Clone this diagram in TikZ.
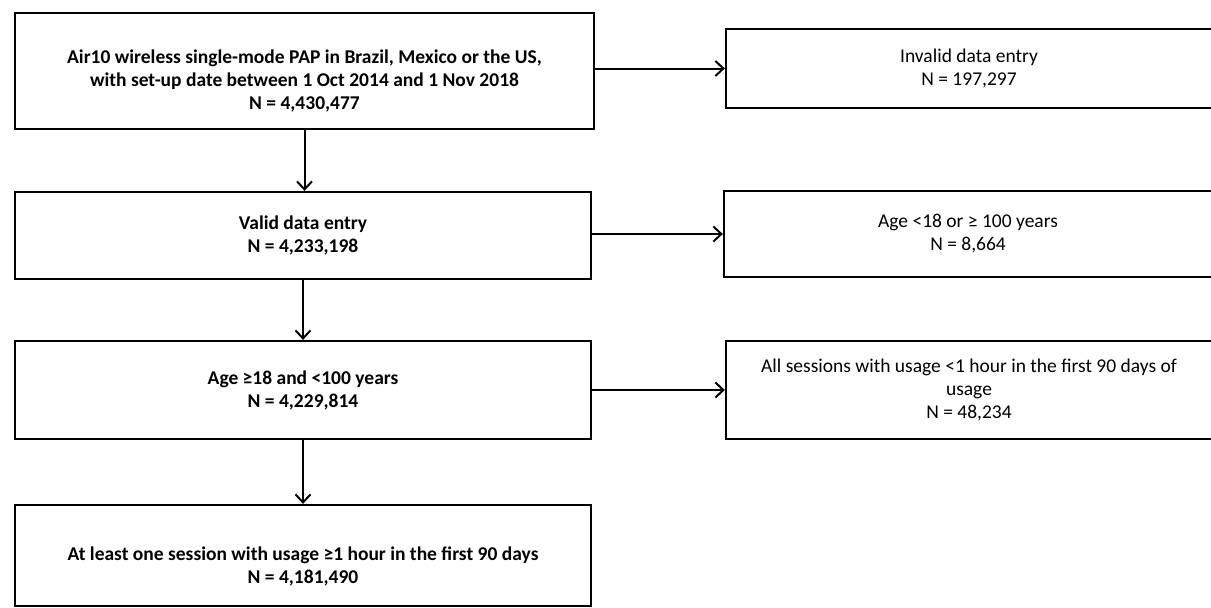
\documentclass[tikz,border=0pt]{standalone}
\usepackage{fontspec}
\setmainfont{Carlito}
\usetikzlibrary{arrows.meta, positioning}
\tikzset{
  paso/.style={draw, line width=2.3pt, inner sep=0pt, align=center,
               font=\fontsize{19.5}{23}\selectfont\bfseries},
  excluido/.style={draw, line width=2.3pt, inner sep=0pt, align=center,
               font=\fontsize{19.5}{23}\selectfont},
  flecha/.style={-{Straight Barb[length=8pt, width=15pt, line width=2pt]}, line width=2pt},
}

\begin{document}
\begin{tikzpicture}[x=1pt, y=-1pt]
  \useasboundingbox (0,0) rectangle (1211,608);
  % main column
  \node[paso, minimum width=579pt, minimum height=116pt] (p1) at (304.5,71)
    {\rule{0pt}{33pt}Air10 wireless single-mode PAP in Brazil, Mexico or the US,\\with set-up date between 1 Oct 2014 and 1 Nov 2018\\N = 4,430,477};
  \node[paso, minimum width=576pt, minimum height=87pt] (p2) at (303,235.5)
    {Valid data entry\\N = 4,233,198};
  \node[paso, minimum width=576pt, minimum height=98pt] (p3) at (303,390)
    {Age ≥18 and <100 years\\N = 4,229,814};
  \node[paso, minimum width=576pt, minimum height=101pt] (p4) at (303,555.5)
    {\rule{0pt}{35pt}At least one session with usage ≥1 hour in the first 90 days\\N = 4,181,490};
  % exclusions
  \node[excluido, minimum width=486pt, minimum height=79pt] (e1) at (969,68.5)
    {Invalid data entry\\N = 197,297};
  \node[excluido, minimum width=488pt, minimum height=86pt] (e2) at (968,234)
    {Age <18 or ≥ 100 years\\N = 8,664};
  \node[excluido, minimum width=486pt, minimum height=98pt] (e3) at (969,390)
    {All sessions with usage <1 hour in the first 90 days of\\usage\\N = 48,234};
  % connectors
  \foreach \a/\b in {p1/p2, p2/p3, p3/p4} {
    \draw[flecha] (\a.south) -- (\a.south |- \b.north);
  }
  \foreach \i in {1,2,3} {
    \draw[flecha] (p\i.east |- e\i.west) -- (e\i.west);
  }
\end{tikzpicture}
\end{document}
